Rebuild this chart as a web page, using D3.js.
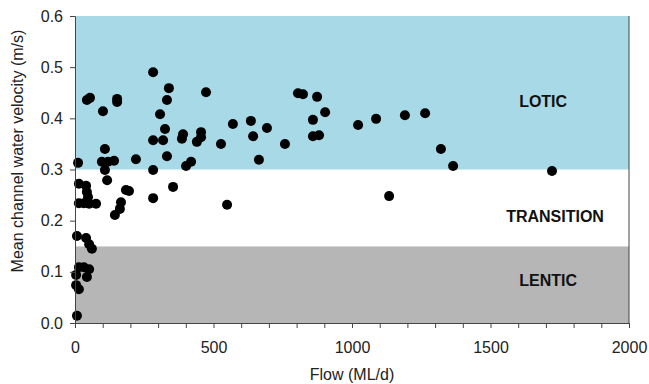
<!DOCTYPE html>
<html>
<head>
<meta charset="utf-8">
<script src="https://cdn.jsdelivr.net/npm/d3@7"></script>
<style>
  body { margin: 0; background: #fff; }
  svg { display: block; font-family: "Liberation Sans", Arial, sans-serif; }
</style>
</head>
<body>
<svg id="chart" width="649" height="384"></svg>
<script>
// flow (ML/d) and mean channel velocity (m/s)
const flow = [7, 4, 14, 4, 14, 32, 51, 43, 7, 40, 51, 61, 14, 32, 51, 76, 14, 40, 43, 47,
  11, 97, 119, 141, 108, 116, 184, 195, 166, 162, 144, 108, 101, 43, 54, 152, 152, 220,
  282, 282, 282, 339, 473, 332, 307, 570, 635, 693, 325, 643, 390, 386, 455, 455, 440,
  318, 527, 332, 419, 401, 664, 354, 282, 549, 805, 823, 874, 903, 859, 1022, 1087, 859,
  881, 758, 1134, 1191, 1264, 1321, 1365, 1722];
const velocity = [0.014, 0.074, 0.066, 0.094, 0.109, 0.109, 0.105, 0.090, 0.170, 0.166,
  0.154, 0.145, 0.234, 0.234, 0.233, 0.233, 0.272, 0.268, 0.256, 0.246, 0.313, 0.315,
  0.315, 0.317, 0.299, 0.279, 0.260, 0.258, 0.236, 0.223, 0.211, 0.340, 0.414, 0.436,
  0.440, 0.438, 0.432, 0.320, 0.357, 0.299, 0.490, 0.459, 0.451, 0.436, 0.408, 0.389,
  0.395, 0.381, 0.379, 0.365, 0.369, 0.360, 0.373, 0.363, 0.354, 0.357, 0.350, 0.326,
  0.315, 0.307, 0.319, 0.266, 0.244, 0.231, 0.449, 0.447, 0.442, 0.412, 0.397, 0.387,
  0.399, 0.365, 0.367, 0.350, 0.248, 0.406, 0.410, 0.340, 0.307, 0.297];

const zoneNames = ["LENTIC", "TRANSITION", "LOTIC"];
const zoneLow = [0, 0.15, 0.3];
const zoneHigh = [0.15, 0.3, 0.6];
const zoneFill = ["#b6b6b6", "#ffffff", "#a8d9e6"];

const xTicks = [0, 500, 1000, 1500, 2000];
const yTicks = [0, 0.1, 0.2, 0.3, 0.4, 0.5, 0.6];

const svg = d3.select("#chart");
const margin = { left: 75, right: 20, top: 16, bottom: 61 };
const width = 649, height = 384;
const font = "Liberation Sans, Arial, sans-serif";

const x = d3.scaleLinear().domain([0, 2000]).range([margin.left, width - margin.right]);
const y = d3.scaleLinear().domain([0, 0.6]).range([height - margin.bottom, margin.top]);

// zone bands
svg.append("g").selectAll("rect").data(zoneNames).join("rect")
  .attr("x", x(0))
  .attr("width", x(2000) - x(0))
  .attr("y", (d, i) => y(zoneHigh[i]))
  .attr("height", (d, i) => y(zoneLow[i]) - y(zoneHigh[i]))
  .attr("fill", (d, i) => zoneFill[i]);

// zone labels
const labelX = [1708, 1733, 1690];
const labelY = [0.072, 0.197, 0.422];
svg.append("g").selectAll("text").data(zoneNames).join("text")
  .attr("x", (d, i) => x(labelX[i]))
  .attr("y", (d, i) => y(labelY[i]))
  .attr("text-anchor", "middle")
  .attr("font-size", 16)
  .attr("font-weight", "bold")
  .attr("fill", "#111")
  .text(d => d);

// right border
svg.append("line")
  .attr("x1", x(2000)).attr("x2", x(2000))
  .attr("y1", y(0.6)).attr("y2", y(0))
  .attr("stroke", "#444").attr("stroke-width", 1);

// points
svg.append("g").selectAll("circle").data(flow).join("circle")
  .attr("cx", d => x(d))
  .attr("cy", (d, i) => y(velocity[i]))
  .attr("r", 5)
  .attr("fill", "#000");

// x axis
const xAxis = svg.append("g")
  .attr("transform", `translate(0,${y(0)})`)
  .call(d3.axisBottom(x).tickValues(d3.range(0, 2001, 100)).tickSize(5)
    .tickFormat(d => xTicks.includes(d) ? d3.format("d")(d) : ""));
xAxis.select(".domain").attr("stroke", "#444");
xAxis.selectAll(".tick line").attr("stroke", "#444");
xAxis.selectAll(".tick text").attr("font-size", 16).attr("fill", "#222")
  .attr("font-family", font).attr("y", 19);

// y axis
const yAxis = svg.append("g")
  .attr("transform", `translate(${x(0)},0)`)
  .call(d3.axisLeft(y).tickValues(yTicks).tickSize(5).tickFormat(d3.format(".1f")));
yAxis.select(".domain").attr("stroke", "#444");
yAxis.selectAll(".tick line").attr("stroke", "#444");
yAxis.selectAll(".tick text").attr("font-size", 16).attr("fill", "#222")
  .attr("font-family", font).attr("x", -12);

// axis titles
svg.append("text")
  .attr("x", (x(0) + x(2000)) / 2)
  .attr("y", 380)
  .attr("text-anchor", "middle")
  .attr("font-size", 16)
  .attr("fill", "#222")
  .text("Flow (ML/d)");

svg.append("text")
  .attr("transform", "translate(23,151) rotate(-90)")
  .attr("text-anchor", "middle")
  .attr("font-size", 16)
  .attr("fill", "#222")
  .text("Mean channel water velocity (m/s)");
</script>
</body>
</html>
